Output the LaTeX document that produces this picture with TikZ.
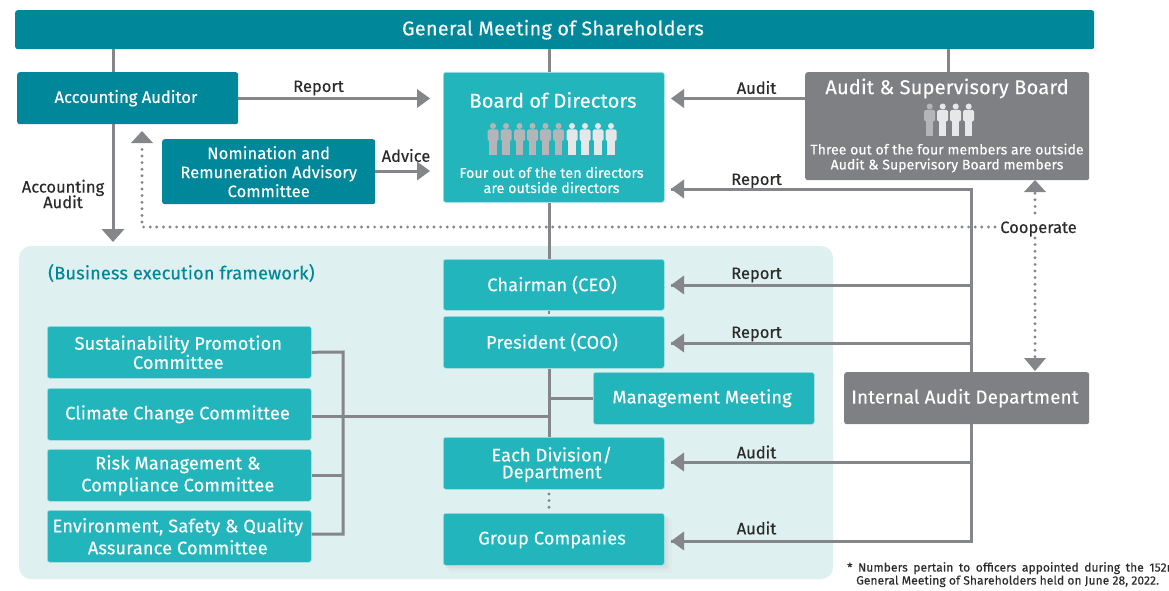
\documentclass[tikz,border=0pt]{standalone}
\usepackage{fontspec}
\setmainfont[FakeBold=0.25]{Fira Sans}
\usetikzlibrary{arrows.meta,shadows}
\definecolor{teald}{HTML}{00879A}
\definecolor{tealm}{HTML}{22B5BC}
\definecolor{grayb}{HTML}{7F8083}
\definecolor{grayl}{HTML}{85868A}
\definecolor{panelc}{HTML}{DFF0F0}
\definecolor{txt}{HTML}{2B2B2B}
\definecolor{pdark}{HTML}{B4B5B8}
\definecolor{plight}{HTML}{E6E7E8}
\newcommand{\fs}[1]{\fontsize{#1}{#1}\selectfont}
\newcommand{\dnb}[2]{\raisebox{-#1pt}{#2}\hspace*{3.5pt}}
\newcommand{\lsp}{\addfontfeature{LetterSpace=.8}}
\tikzset{
  x=1pt,y=-1pt,
  boxb/.style={rounded corners=2.5pt,draw=none,text=white,align=center,inner sep=0pt,anchor=north west},
  dk/.style={boxb,fill=teald},
  md/.style={boxb,fill=tealm,draw=white!60!tealm,line width=.6pt},
  gr/.style={boxb,fill=grayb},
  lab/.style={text=txt,font=\fs{16.5},inner sep=0pt,align=center},
  conn/.style={draw=grayl,line width=3pt},
  dots/.style={draw=grayl,line width=3.2pt,line cap=round,dash pattern=on 0pt off 6.6pt},
  person/.pic={
    \fill[pic actions] (0,-5) circle (3pt);
    \fill[pic actions,rounded corners=1.5pt] (-5.5,-1.5) rectangle (5.5,10);
    \fill[pic actions] (-3.6,5) rectangle (3.6,24);
  }
}
\begin{document}
\begin{tikzpicture}
\useasboundingbox (0,0) rectangle (1169,591);
\clip (0,0) rectangle (1169,591);
\fill[white] (0,0) rectangle (1169,591);
% panel
\fill[panelc,rounded corners=12pt] (19,246) rectangle (833,579);
% nodes
\node[dk,minimum width=1079pt,minimum height=39pt,font=\fs{19.8}\addfontfeature{LetterSpace=1.5}] (gms) at (15,10) {\dnb{2}{General Meeting of Shareholders}};
\node[dk,minimum width=221pt,minimum height=52pt,font=\fs{16.6}] (aa) at (17,72) {\dnb{1.5}{Accounting Auditor}};
\node[md,minimum width=221pt,minimum height=130pt] (bod) at (443,72) {};
\node[gr,minimum width=284pt,minimum height=108pt] (asb) at (805,72) {};
\node[dk,minimum width=213pt,minimum height=65pt,font=\fs{16.5}] (nom) at (162,139) {\lsp Nomination and\\[2.5pt]\lsp Remuneration Advisory\\[2.5pt]\lsp Committee};
\tikzset{mdt/.style={md,minimum width=221pt,font=\fs{18.2}\lsp}}
\node[mdt,minimum height=51pt] (ceo) at (443,259) {\dnb{0}{Chairman (CEO)}};
\node[mdt,minimum height=52pt] (coo) at (443,316) {\dnb{0}{President (COO)}};
\node[mdt,minimum height=52pt] (mm) at (593,372) {\dnb{2}{Management Meeting}};
\node[mdt,minimum height=52pt] (ediv) at (443,437) {\rule{0pt}{17pt}\lsp Each Division/\hspace*{4pt}\\[-1.4pt]\lsp Department\hspace*{4pt}};
\path[fill=black!25,opacity=.08] (449,519) rectangle (672,573);
\path[fill=black!25,opacity=.12] (447,517) rectangle (669,570);
\path[fill=black!25,opacity=.14] (446,516) rectangle (667,568);
\node[mdt,minimum height=52pt] (gc) at (443,513) {\dnb{2}{Group Companies}};
\node[gr,minimum width=245pt,minimum height=52pt,font=\fs{18.8}\lsp] (iad) at (844,372) {\dnb{1.5}{Internal Audit Department}};
\tikzset{cmte/.style={md,minimum width=264pt,minimum height=52pt,font=\fs{18.2}\lsp}}
\node[cmte] (spc) at (47,326) {\lsp Sustainability Promotion\hspace*{2pt}\\[1pt]\lsp Committee\hspace*{2pt}};
\node[cmte] (ccc) at (47,388) {\dnb{2}{Climate Change Committee}};
\node[cmte] (rmc) at (47,449) {\lsp Risk Management \&\hspace*{3pt}\\[3.8pt]\lsp Compliance Committee\hspace*{3pt}};
\node[cmte] (esq) at (47,510) {\lsp Environment, Safety \& Quality\hspace*{3pt}\\[3.8pt]\lsp Assurance Committee\hspace*{3pt}};
% box inner text
\node[text=white,font=\fs{20}\addfontfeature{LetterSpace=1},inner sep=0pt] (bodt) at (553,100) {Board of Directors};
\node[text=white,font=\fs{14.2}\lsp,align=center,inner sep=0pt] (bods) at (551.5,180) {\lsp Four out of the ten directors\\[1pt]\lsp are outside directors};
\node[text=white,font=\fs{20}\addfontfeature{LetterSpace=1},inner sep=0pt] (asbt) at (947,88.5) {Audit \& Supervisory Board};
\node[text=white,font=\fs{14}\addfontfeature{LetterSpace=.6},align=center,inner sep=0pt] (asbs) at (947,158) {\addfontfeature{LetterSpace=.6}Three out of the four members are outside\\[1pt]\addfontfeature{LetterSpace=.6}Audit \& Supervisory Board members};
% people
\foreach \px in {493,506,519.5,532.5,545.5,558.5}{\pic[fill=pdark] at (\px,131) {person};}
\foreach \px in {572,585,598,611}{\pic[fill=plight] at (\px,131) {person};}
\pic[fill=pdark] at (929.7,111.5) {person};
\foreach \px in {942.7,955.7,968.7}{\pic[fill=plight] at (\px,111.5) {person};}
% text labels
\node[lab] (lrep) at (318.5,88) {Report};
\node[lab] (laud) at (756.5,87.5) {Audit};
\node[lab] (ladv) at (406,155.5) {Advice};
\node[lab] (lacc) at (63,194) {Accounting\\[-1pt]Audit};
\node[lab] (lr1) at (756.5,181) {Report};
\node[lab] (lr2) at (756.5,275) {Report};
\node[lab] (lr3) at (756.5,334) {Report};
\node[lab] (la1) at (756.5,452) {Audit};
\node[lab] (la2) at (756.5,528) {Audit};
\node[text=teald,font=\fs{18.2}\lsp,inner sep=0pt,anchor=west] (lbef) at (48,273) {(Business execution framework)};
\node[text=txt,font=\fs{12}\addfontfeature{LetterSpace=.7},inner sep=0pt,anchor=north west,align=left] (fn) at (847,562) {{\addfontfeature{LetterSpace=.7}\spaceskip=5.6pt * Numbers pertain to officers appointed during the 152nd}\\[1pt]\hspace*{9pt}\addfontfeature{LetterSpace=.7}General Meeting of Shareholders held on June 28, 2022.};
% junction coordinates
\coordinate (jt1) at (113,49);
\coordinate (jt2) at (549,49);
\coordinate (jt3) at (948,49);
\coordinate (iadt) at (971,372);
\coordinate (iadb) at (971,424);
\coordinate (tr1) at (971,189); \coordinate (hr1) at (671,189);
\coordinate (tr2) at (971,285); \coordinate (hr2) at (671,285);
\coordinate (tr3) at (971,343); \coordinate (hr3) at (671,343);
\coordinate (ta1) at (971,462); \coordinate (ha1) at (671,462);
\coordinate (ta2) at (971,541); \coordinate (ha2) at (671,541);
\coordinate (dotc) at (142,227);
\coordinate (dotr) at (995,227);
\coordinate (doth) at (142,143);
\coordinate (cup) at (1035,213);
\coordinate (cupe) at (1035,192);
\coordinate (cdn) at (1035,238);
\coordinate (cdne) at (1035,358);
\coordinate (brt) at (343,352);
\coordinate (brb) at (343,534);
% connectors
\draw[conn] (jt1) -- (aa.north -| jt1);
\draw[conn] (jt2) -- (bod.north -| jt2);
\draw[conn] (jt3) -- (asb.north -| jt3);
\draw[conn] (aa.east |- 0,98.5) -- (420,98.5);
\fill[grayl] (430,98.5) -- (417,89) -- (417,108) -- cycle;
\draw[conn] (asb.west |- 0,98.5) -- (680,98.5);
\fill[grayl] (671,98.5) -- (684,89) -- (684,108) -- cycle;
\draw[conn] (nom.east |- 0,171) -- (420,171);
\fill[grayl] (430,171) -- (417,161.5) -- (417,180.5) -- cycle;
\draw[conn] (aa.south -| jt1) -- (113,232);
\fill[grayl] (113,242) -- (101.5,229) -- (124.5,229) -- cycle;
% dotted feedback
\draw[dots] (dotr) -- (dotc) -- (doth);
\fill[grayl] (142,131) -- (131,143) -- (153,143) -- cycle;
\node[lab] (lcoop) at (1038.5,229) {Cooperate};
\draw[dots] (cup) -- (cupe);
\fill[grayl] (1035,180) -- (1024,192) -- (1046,192) -- cycle;
\draw[dots] (cdn) -- (cdne);
\fill[grayl] (1035,371) -- (1024,358) -- (1046,358) -- cycle;
% report/audit trunk
\draw[conn] (iadt) -- (tr1) -- (hr1);
\draw[conn] (tr2) -- (hr2);
\draw[conn] (tr3) -- (hr3);
\draw[conn] (iadb) -- (ta2) -- (ha2);
\draw[conn] (ta1) -- (ha1);
\foreach \hy in {189,285,343,462,541}{\fill[grayl] (671,\hy) -- (684,\hy-9.5) -- (684,\hy+9.5) -- cycle;}
% center spine
\draw[conn] (bod.south -| jt2) -- (ceo.north -| jt2);
\draw[conn,line width=2.5pt,dash pattern=on 3pt off 3pt] (ceo.south -| jt2) -- (coo.north -| jt2);
\draw[conn] (coo.south -| jt2) -- (ediv.north -| jt2);
\draw[conn] (jt2 |- mm.west) -- (mm.west);
\draw[conn] (ccc.east |- 0,416) -- (jt2 |- 0,416);
\draw[dots] (549,494) -- (549,508);
% bracket
\draw[conn] (spc.east) -- (brt) -- (brb) -- (esq.east |- brb);
\draw[conn] (rmc.east) -- (brt |- rmc.east);
\end{tikzpicture}
\end{document}
